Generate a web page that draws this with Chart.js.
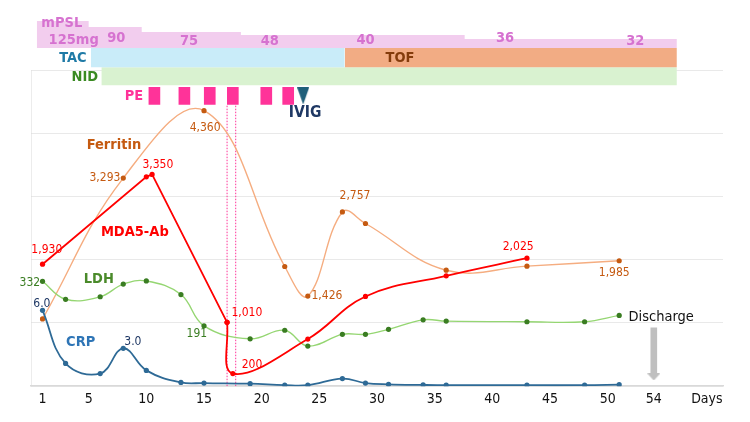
<!DOCTYPE html>
<html>
<head>
<meta charset="utf-8">
<script src="https://cdn.jsdelivr.net/npm/chart.js@4.4.1/dist/chart.umd.min.js"></script>
<style>
    html, body { margin: 0; padding: 0; background: #fff; }
    #wrap { width: 750px; height: 422px; }
</style>
</head>
<body>
<div id="wrap"><canvas id="chart" width="750" height="422"></canvas></div>
<script>
// x axis (days)
const tickDays = [1, 5, 10, 15, 20, 25, 30, 35, 40, 45, 50, 54];

// lab values
const ferritinDays = [1, 8, 15, 22, 24, 27, 29, 36, 43, 51];
const ferritin = [1065, 3293, 4360, 1894, 1426, 2757, 2574, 1835, 1899, 1985];

const mdaDays = [1, 10, 10.5, 17, 17.5, 24, 29, 36, 43];
const mda5Ab = [1930, 3312, 3350, 1010, 200, 746, 1420, 1746, 2025];
const mdaBreak = 3; // index where the curve starts being smoothed

const labDays = [1, 3, 6, 8, 10, 13, 15, 19, 22, 24, 27, 29, 31, 34, 36, 43, 48, 51];
const ldh = [332, 275, 283, 323, 333, 290, 191, 150, 177, 127, 164, 164, 180, 210, 206, 204, 204, 224];
const crp = [6.0, 1.8, 1.0, 3.0, 1.25, 0.3, 0.25, 0.2, 0.08, 0.08, 0.6, 0.25, 0.15, 0.1, 0.08, 0.08, 0.08, 0.12];

// treatments
const mpslStepDays = [0.5, 5.0, 9.6, 18.2, 37.6, 56.0];
const mpslDoses = ['125mg', '90', '75', '48', '40', '36', '32'];
const mpslDoseDays = [3.7, 7.4, 13.7, 20.7, 29.0, 41.1, 52.4];
const tacSpan = [5.2, 27.2];
const tofSpan = [27.2, 56.0];
const nidSpan = [6.1, 56.0];
const peDays = [10.7, 13.3, 15.5, 17.5, 20.4, 22.3];
const ivigDay = 23.6;
const pePairDays = [17, 17.75];
const dischargeDay = 54;

// layout: vertical rows in gridline units (0 = x axis, 5 = top gridline)
const TOP = 5.873;
const ROW = {
    mpslTops: [5.778, 5.683, 5.603, 5.556, 5.492],
    mpslBase: 5.349,
    drugTop: 5.349, drugBase: 5.048,
    nidTop: 5.048, nidBase: 4.762,
    peTop: 4.73, peBase: 4.46,
    ivig: 4.592,
    arrowTop: 0.925, arrowShaftEnd: 0.195, arrowHead: 0.146
};

const FONT = "'DejaVu Sans Condensed', 'DejaVu Sans', sans-serif";

function triangle(w, h, color) {
    const c = document.createElement('canvas');
    c.width = w;
    c.height = h;
    const g = c.getContext('2d');
    g.fillStyle = color;
    g.beginPath();
    g.moveTo(0, 0);
    g.lineTo(w, 0);
    g.lineTo(w / 2, h);
    g.closePath();
    g.fill();
    return c;
}

function pts(xs, ys) {
    return xs.map((x, i) => ({ x: x, y: ys[i] }));
}

function band(span, top, base, color) {
    return {
        type: 'line', yAxisID: 'yGrid', order: 20,
        data: [{ x: span[0], y: top }, { x: span[1], y: top }],
        borderWidth: 0, pointRadius: 0, backgroundColor: color,
        fill: { value: base }
    };
}

function labLine(xs, ys, axis, line, dot, width, tension) {
    return {
        type: 'line', yAxisID: axis, data: pts(xs, ys),
        borderColor: line, borderWidth: width, tension: tension,
        pointRadius: 2.6, pointBackgroundColor: dot, pointBorderWidth: 0,
        fill: false
    };
}

const mpslPoints = mpslStepDays.map((d, i) => ({ x: d, y: ROW.mpslTops[Math.min(i, ROW.mpslTops.length - 1)] }));

const datasets = [
    labLine(mdaDays.slice(0, mdaBreak + 1), mda5Ab.slice(0, mdaBreak + 1), 'yVal', '#FF0000', '#FF0000', 1.8, 0),
    labLine(mdaDays.slice(mdaBreak), mda5Ab.slice(mdaBreak), 'yVal', '#FF0000', '#FF0000', 1.8, 0.4),
    labLine(labDays, crp, 'yCRP', '#2E6A96', '#2E6A96', 1.8, 0.4),
    labLine(labDays, ldh, 'yLDH', '#95D672', '#3A7D22', 1.4, 0.4),
    labLine(ferritinDays, ferritin, 'yVal', '#F5AD80', '#C55A11', 1.4, 0.4),
    // dotted lines below the 4th PE
    ...pePairDays.map(d => ({
        type: 'line', yAxisID: 'yGrid', order: 5,
        data: [{ x: d, y: 0 }, { x: d, y: ROW.peBase }],
        borderColor: '#FF3399', borderWidth: 1, borderDash: [1.5, 1.5], pointRadius: 0
    })),
    // y axis line
    {
        type: 'line', yAxisID: 'yGrid', order: 30,
        data: [{ x: 0, y: 0 }, { x: 0, y: 5 }],
        borderColor: '#DADADA', borderWidth: 1, pointRadius: 0
    },
    {
        type: 'line', yAxisID: 'yGrid', order: 20,
        data: mpslPoints, stepped: true,
        borderWidth: 0, pointRadius: 0, backgroundColor: '#F2CDEE',
        fill: { value: ROW.mpslBase }
    },
    band(tacSpan, ROW.drugTop, ROW.drugBase, '#C9ECF9'),
    band(tofSpan, ROW.drugTop, ROW.drugBase, '#F2AC84'),
    band(nidSpan, ROW.nidTop, ROW.nidBase, '#D9F2D0'),
    {
        type: 'bar', yAxisID: 'yGrid', order: 10, grouped: false,
        data: peDays.map(d => ({ x: d, y: [ROW.peBase, ROW.peTop] })),
        backgroundColor: '#FF3399', barThickness: 11, borderWidth: 0
    },
    {
        type: 'line', yAxisID: 'yGrid', order: 10, showLine: false,
        data: [{ x: ivigDay, y: ROW.ivig }],
        pointStyle: triangle(12, 17, '#1F5F7A'), pointRadius: 6
    },
    // discharge arrow
    {
        type: 'bar', yAxisID: 'yGrid', order: 10, grouped: false,
        data: [{ x: dischargeDay, y: [ROW.arrowShaftEnd, ROW.arrowTop] }],
        backgroundColor: '#BFBFBF', barThickness: 6, borderWidth: 0
    },
    {
        type: 'line', yAxisID: 'yGrid', order: 10, showLine: false,
        data: [{ x: dischargeDay, y: ROW.arrowHead }],
        pointStyle: triangle(13, 7, '#BFBFBF'), pointRadius: 6
    }
];

// text placed in (day, gridline unit)
const notes = [
    { t: 'mPSL', d: 2.67, u: 5.75, c: '#D672D0', b: true, s: 14.5 },
    { t: 'TAC', d: 3.63, u: 5.19, c: '#1F7AA6', b: true, s: 14.5 },
    { t: 'TOF', d: 32.0, u: 5.19, c: '#843C0C', b: true, s: 14.5 },
    { t: 'NID', d: 4.67, u: 4.889, c: '#3A8A22', b: true, s: 14.5 },
    { t: 'PE', d: 8.92, u: 4.587, c: '#FF3399', b: true, s: 14.5 },
    { t: 'IVIG', d: 23.76, u: 4.317, c: '#1F3864', b: true, s: 15.5 },
    { t: 'Ferritin', d: 7.19, u: 3.81, c: '#C55A11', b: true, s: 14.5 },
    { t: 'MDA5-Ab', d: 9.0, u: 2.43, c: '#FF0000', b: true, s: 14.5 },
    { t: 'LDH', d: 5.88, u: 1.70, c: '#4A8A2A', b: true, s: 14.5 },
    { t: 'CRP', d: 4.31, u: 0.70, c: '#2E75B6', b: true, s: 14.5 },
    { t: '3,293', d: 6.41, u: 3.30, c: '#C55A11', s: 12 },
    { t: '4,360', d: 15.1, u: 4.095, c: '#C55A11', s: 12 },
    { t: '2,757', d: 28.09, u: 3.016, c: '#C55A11', s: 12 },
    { t: '1,426', d: 25.66, u: 1.429, c: '#C55A11', s: 12 },
    { t: '1,985', d: 50.57, u: 1.794, c: '#C55A11', s: 12 },
    { t: '3,350', d: 11.0, u: 3.508, c: '#FF0000', s: 12 },
    { t: '1,930', d: 1.37, u: 2.159, c: '#FF0000', s: 12 },
    { t: '1,010', d: 18.72, u: 1.159, c: '#FF0000', s: 12 },
    { t: '200', d: 19.16, u: 0.333, c: '#FF0000', s: 12 },
    { t: '2,025', d: 42.24, u: 2.206, c: '#FF0000', s: 12 },
    { t: '332', d: -0.1, u: 1.635, c: '#3A7D22', s: 12 },
    { t: '191', d: 14.38, u: 0.825, c: '#3A7D22', s: 12 },
    { t: '6.0', d: 0.94, u: 1.302, c: '#1F3864', s: 12 },
    { t: '3.0', d: 8.83, u: 0.698, c: '#1F3864', s: 12 },
    { t: 'Discharge', d: 54.64, u: 1.095, c: '#111', s: 14.5 },
    { t: 'Days', d: 58.6, u: -0.206, c: '#111', s: 14 }
];
mpslDoses.forEach((t, i) => {
    const u = (i === 1 || i === 5) ? 5.508 : (i === 0 || i === 4 ? 5.476 : 5.46);
    notes.push({ t: t, d: mpslDoseDays[i], u: u, c: '#D672D0', b: true, s: 14.5 });
});

const notesPlugin = {
    id: 'notes',
    afterDatasetsDraw(chart) {
        const ctx = chart.ctx;
        const x = chart.scales.x;
        const y = chart.scales.yGrid;
        ctx.save();
        ctx.textAlign = 'center';
        ctx.textBaseline = 'middle';
        notes.forEach(n => {
            ctx.font = (n.b ? 'bold ' : '') + n.s + 'px ' + FONT;
            ctx.fillStyle = n.c;
            ctx.fillText(n.t, x.getPixelForValue(n.d), y.getPixelForValue(n.u));
        });
        ctx.restore();
    }
};

new Chart(document.getElementById('chart').getContext('2d'), {
    type: 'line',
    data: { datasets: datasets },
    options: {
        responsive: false,
        animation: false,
        layout: { padding: { top: 15, left: 31, right: 27, bottom: 9 } },
        plugins: { legend: { display: false }, tooltip: { enabled: false } },
        scales: {
            x: {
                type: 'linear', min: 0, max: 60, offset: false,
                grid: { display: false, drawTicks: false },
                border: { color: '#D9D9D9', width: 1.5 },
                afterBuildTicks: ax => { ax.ticks = tickDays.map(v => ({ value: v })); },
                ticks: { padding: 5, color: '#111', font: { family: FONT, size: 14 }, callback: v => String(v) }
            },
            yGrid: {
                type: 'linear', position: 'left', min: 0, max: TOP,
                afterBuildTicks: ax => { ax.ticks = [0, 1, 2, 3, 4, 5].map(v => ({ value: v })); },
                ticks: { display: false },
                grid: { color: '#E9E9E9', drawTicks: false },
                border: { display: false }
            },
            yVal: { type: 'linear', display: false, min: 0, max: 1000 * TOP },
            yLDH: { type: 'linear', display: false, min: 0, max: 200 * TOP },
            yCRP: { type: 'linear', display: false, min: 0, max: 5 * TOP }
        }
    },
    plugins: [notesPlugin]
});
</script>
</body>
</html>
